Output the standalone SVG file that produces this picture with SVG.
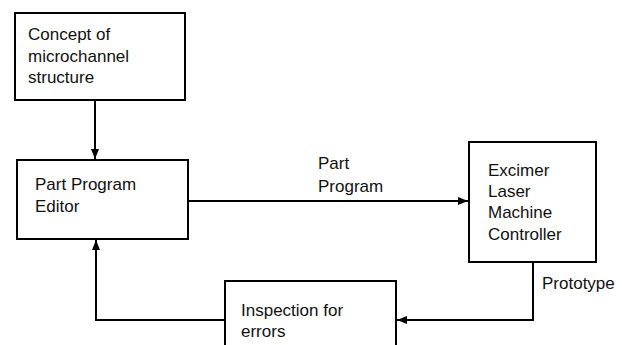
<svg xmlns="http://www.w3.org/2000/svg" width="622" height="345" viewBox="0 0 622 345">
<style>
.box{fill:#fff;stroke:#000;stroke-width:2}
.t{font-family:"Liberation Sans",Arial,sans-serif;font-size:17px;fill:#111}
.c{fill:none;stroke:#000;stroke-width:2}
</style>
<defs>
<marker id="ah" viewBox="0 0 10 8" refX="10" refY="4" markerWidth="10" markerHeight="8" markerUnits="userSpaceOnUse" orient="auto">
<path d="M0,0 L10,4 L0,8 Z" fill="#000"/>
</marker>
</defs>
<rect width="622" height="345" fill="#fff"/>
<g id="connectors">
<line class="c" x1="95" y1="100" x2="95" y2="159" marker-end="url(#ah)"/>
<line class="c" x1="188" y1="201" x2="468" y2="201" marker-end="url(#ah)"/>
<polyline class="c" points="533,262 533,320 397,320" marker-end="url(#ah)"/>
<polyline class="c" points="225,320 96,320 96,240" marker-end="url(#ah)"/>
<text class="t" x="318" y="169">Part</text>
<text class="t" x="318" y="192">Program</text>
<text class="t" x="542" y="289">Prototype</text>
</g>
<g id="concept">
<rect class="box" x="15" y="13" width="170" height="87"/>
<text class="t" x="28" y="40">Concept of</text>
<text class="t" x="28" y="61.5">microchannel</text>
<text class="t" x="28" y="83">structure</text>
</g>
<g id="editor">
<rect class="box" x="17" y="160" width="171" height="79"/>
<text class="t" x="35" y="190">Part Program</text>
<text class="t" x="35" y="212">Editor</text>
</g>
<g id="laser">
<rect class="box" x="469" y="142" width="127" height="120"/>
<text class="t" x="488" y="176">Excimer</text>
<text class="t" x="488" y="197">Laser</text>
<text class="t" x="488" y="218">Machine</text>
<text class="t" x="488" y="240">Controller</text>
</g>
<g id="inspection">
<rect class="box" x="225" y="281" width="171" height="80"/>
<text class="t" x="241" y="316">Inspection for</text>
<text class="t" x="241" y="337">errors</text>
</g>
</svg>
